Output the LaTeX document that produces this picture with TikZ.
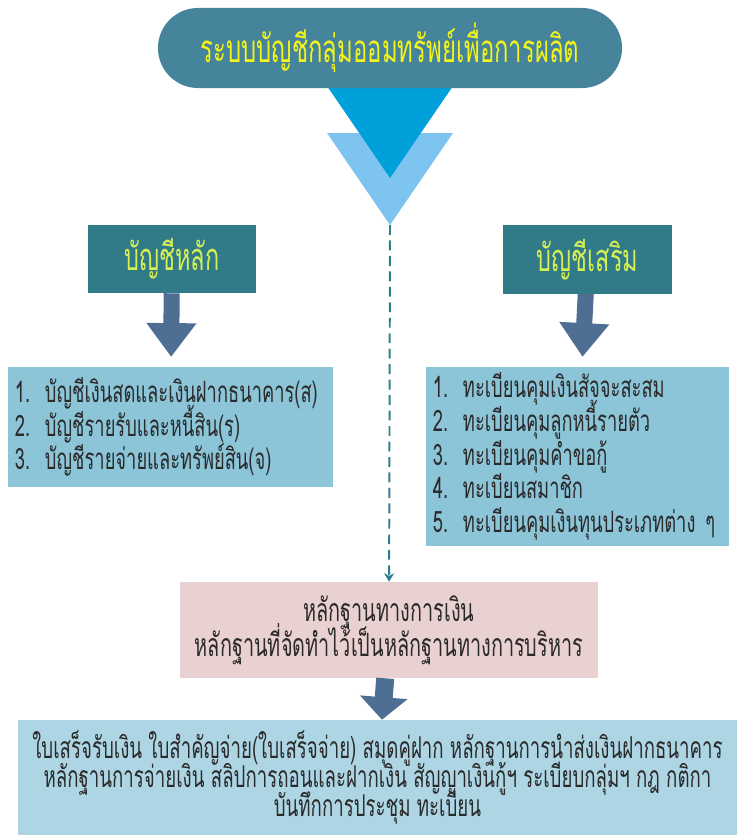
\documentclass[tikz,border=0pt]{standalone}
\usepackage{fontspec}
\usepackage{tikz}
\usetikzlibrary{arrows.meta,calc}
\newfontfamily\thaifont[Script=Thai,FakeStretch=0.62]{Loma}
\newcommand{\tightskip}{\lineskiplimit=-100pt\relax}

\definecolor{pillteal}{HTML}{45849A}
\definecolor{hdrteal}{HTML}{317A88}
\definecolor{slate}{HTML}{4E6E93}
\definecolor{listblue}{HTML}{8CC4D8}
\definecolor{pinkbox}{HTML}{EAD1D1}
\definecolor{botblue}{HTML}{ADD5E4}
\definecolor{darktri}{HTML}{00A0DB}
\definecolor{lighttri}{HTML}{7DC5F0}
\definecolor{dashteal}{HTML}{2E7F8C}
\definecolor{titleyel}{HTML}{F4F41A}
\definecolor{hdryel}{HTML}{D6EF55}
\definecolor{bodytext}{HTML}{2A2A2A}

\begin{document}
\begin{tikzpicture}[x=0.025cm,y=-0.025cm,
      pill/.style={fill=pillteal,rounded corners=1cm,minimum width=11.6cm,
        minimum height=2cm,text=titleyel,font=\thaifont\fontsize{27.4}{30}\selectfont},
      hdr/.style={fill=hdrteal,minimum width=4.2cm,minimum height=1.7cm,
        text=hdryel,font=\thaifont\fontsize{27}{30}\selectfont},
      listbox/.style={fill=listblue,inner xsep=0.175cm,align=left,
        text=bodytext,font=\thaifont\fontsize{21}{24}\selectfont\tightskip},
      evbox/.style={inner sep=0pt,align=center,text=bodytext},
      blockarrow/.style={draw=slate,line width=11.4pt,
        -{Triangle[width=34pt,length=24pt]}}]
      \useasboundingbox (0,0) rectangle (743,835);

      % double triangle under the title
      \fill[lighttri] (327,133) -- (453,133) -- (390,225) -- cycle;
      \fill[darktri] (327,86) -- (453,86) -- (390,178) -- cycle;
      \coordinate (vtip) at (390,225);

      \node[pill] (title) at (390,48) {ระบบบัญชีกลุ่มออมทรัพย์เพื่อการผลิต};

      \node[hdr] (main) at (172,259) {บัญชีหลัก};
      \node[hdr] (extra) at (587.5,259.5) {บัญชีเสริม};

      \node[listbox,text width=7.775cm,minimum height=3cm] (mainlist) at (170.5,427)
        {1. บัญชีเงินสดและเงินฝากธนาคาร(ส)\\
         2. บัญชีรายรับและหนี้สิน(ร)\\
         3. บัญชีรายจ่ายและทรัพย์สิน(จ)};
      \node[listbox,text width=7.225cm,minimum height=4.475cm] (extralist) at (577.5,456.5)
        {1. ทะเบียนคุมเงินสัจจะสะสม\\
         2. ทะเบียนคุมลูกหนี้รายตัว\\
         3. ทะเบียนคุมคำขอกู้\\
         4. ทะเบียนสมาชิก\\
         5. ทะเบียนคุมเงินทุนประเภทต่าง ๆ};

      \node[evbox,fill=pinkbox,minimum width=10.45cm,minimum height=2.4cm,
        font=\thaifont\fontsize{22.8}{25}\selectfont\tightskip] (proof) at (389,630)
        {หลักฐานทางการเงิน\\
         หลักฐานที่จัดทำไว้เป็นหลักฐานทางการบริหาร};

      \node[evbox,fill=botblue,minimum width=17.975cm,minimum height=2.875cm,
        font=\thaifont\fontsize{21.4}{20.5}\selectfont\tightskip] (docs) at (377.5,777.5)
        {ใบเสร็จรับเงิน ใบสำคัญจ่าย(ใบเสร็จจ่าย) สมุดคู่ฝาก หลักฐานการนำส่งเงินฝากธนาคาร\\
         หลักฐานการจ่ายเงิน สลิปการถอนและฝากเงิน สัญญาเงินกู้ฯ ระเบียบกลุ่มฯ กฎ กติกา\\
         บันทึกการประชุม ทะเบียน};

      \draw[blockarrow,shorten >=7pt] (main) -- (mainlist);
      \draw[blockarrow,shorten >=7pt] (extra) -- (extralist);
      \draw[blockarrow,line width=12.8pt,-{Triangle[width=33pt,length=16pt]}] (proof) -- (docs);

      \draw[dashteal,line width=1.4pt,dash pattern=on 7pt off 4pt,
        -{Stealth[width=7pt,length=6pt]}] (vtip) -- (proof);
\end{tikzpicture}
\end{document}
